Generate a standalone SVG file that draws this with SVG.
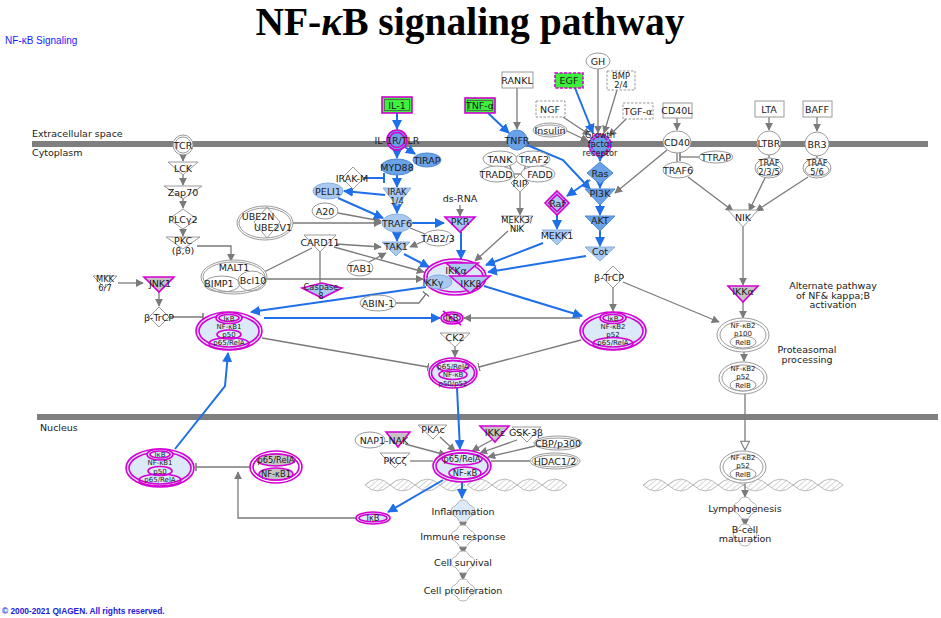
<svg xmlns="http://www.w3.org/2000/svg" width="941" height="618" viewBox="0 0 941 618">
<style>
.t{font-family:"DejaVu Sans","Liberation Sans",sans-serif;font-size:9.5px;text-anchor:middle;fill:#1a1a1a}
.s{font-size:8.3px}
.xs{font-size:7px}
.l{text-anchor:start}
.g{stroke:#7a7a7a;stroke-width:1.3;fill:none}
.b{stroke:#1f6fe8;stroke-width:2;fill:none}
.w{fill:#fff;stroke:#9a9a9a;stroke-width:1}
.wn{fill:none;stroke:#9a9a9a;stroke-width:1}
.lb{fill:#aac9f0;stroke:#86aee0;stroke-width:1}
.db{fill:#6aa2e8;stroke:#4d88d6;stroke-width:1}
.m{fill:none;stroke:#d400d4;stroke-width:1.6}
.mf{fill:#dce9f9;stroke:#d400d4;stroke-width:1.6}
.cx{fill:#dce9f9;stroke:#d400d4;stroke-width:1.6}
.gr{fill:#3cf03c;stroke:#d400d4;stroke-width:1.6}
.gy{fill:#c4c4c4;stroke:#d400d4;stroke-width:1.6}
.ml{fill:#aac9f0;stroke:#d400d4;stroke-width:1.6}
.dash{fill:#fff;stroke:#999;stroke-width:1;stroke-dasharray:2.5,1.5}
</style>
<defs>
<marker id="ag" viewBox="0 0 10 10" refX="9" refY="5" markerWidth="8" markerHeight="8" markerUnits="userSpaceOnUse" orient="auto"><path d="M0,0L10,5L0,10z" fill="#7a7a7a"/></marker>
<marker id="ab" viewBox="0 0 10 10" refX="9" refY="5" markerWidth="10" markerHeight="10" markerUnits="userSpaceOnUse" orient="auto"><path d="M0,0L10,5L0,10z" fill="#1f6fe8"/></marker>
<marker id="ao" viewBox="0 0 10 10" refX="9" refY="5" markerWidth="11" markerHeight="11" markerUnits="userSpaceOnUse" orient="auto"><path d="M1,1L9,5L1,9z" fill="#fff" stroke="#7a7a7a" stroke-width="1"/></marker>
<marker id="tg" viewBox="0 0 2 10" refX="1" refY="5" markerWidth="1.6" markerHeight="9" markerUnits="userSpaceOnUse" orient="auto"><rect width="2" height="10" fill="#7a7a7a"/></marker>
<marker id="tb" viewBox="0 0 2 10" refX="1" refY="5" markerWidth="2" markerHeight="10" markerUnits="userSpaceOnUse" orient="auto"><rect width="2" height="10" fill="#1f6fe8"/></marker>
<pattern id="hatch" width="4" height="4" patternUnits="userSpaceOnUse" patternTransform="rotate(50)"><line x1="0" y1="0" x2="0" y2="4" stroke="#b0b0b0" stroke-width="1"/></pattern>
<path id="lens" d="M0,0 Q12.5,-12 25,0 Q12.5,12 0,0Z" fill="url(#hatch)" stroke="#aaa" stroke-width="0.8"/>
<path id="puz" d="M-5,-8 a5,3 0 0 1 10,0 l3,3 a3,4 0 0 1 0,10 l-3,3 a5,3 0 0 1 -10,0 l-3,-3 a3,4 0 0 1 0,-10 z" stroke="#aaa" stroke-width="0.9"/>
</defs>
<rect width="941" height="618" fill="#fff"/>

<text x="470" y="35" font-family="Liberation Serif,serif" font-weight="bold" font-size="39.5" text-anchor="middle" fill="#000">NF-<tspan font-style="italic">κ</tspan>B signaling pathway</text>
<text x="5" y="44" font-family="Liberation Sans,sans-serif" font-size="10" fill="#1a1aff">NF-κB Signaling</text>

<g id="membranes">
<rect x="32" y="141" width="896" height="6" fill="#7f7f7f"/>
<rect x="37" y="414" width="901" height="6" fill="#7f7f7f"/>
<text class="t l" x="32" y="137">Extracellular space</text>
<text class="t l" x="32" y="156">Cytoplasm</text>
<text class="t l" x="40" y="431">Nucleus</text>
</g>

<g id="dna">
<use href="#lens" x="365" y="485"/><use href="#lens" x="390" y="485"/><use href="#lens" x="415" y="485"/><use href="#lens" x="440" y="485"/><use href="#lens" x="467" y="485"/><use href="#lens" x="492" y="485"/><use href="#lens" x="517" y="485"/><use href="#lens" x="542" y="485"/>
<use href="#lens" x="643" y="485"/><use href="#lens" x="668" y="485"/><use href="#lens" x="693" y="485"/><use href="#lens" x="718" y="485"/><use href="#lens" x="743" y="485"/><use href="#lens" x="768" y="485"/><use href="#lens" x="793" y="485"/><use href="#lens" x="818" y="485"/>
</g>

<g id="connectors">
<g class="g" marker-end="url(#ag)">
<path d="M183,155V161"/><path d="M183,175V185"/><path d="M183,199V208"/><path d="M183,229V236"/>
<path d="M197,246H231V261"/><path d="M118,283H143"/><path d="M159,292V306"/>
<path d="M293,223H381"/><path d="M338,213L381,221"/><path d="M336,244L381,247"/><path d="M334,247L424,272"/>
<path d="M266,279H423"/><path d="M369,262L386,253"/><path d="M424,241L410,247"/>
<path d="M460,205V216"/><path d="M520,192V215"/><path d="M508,231L475,261"/>
<path d="M517,88V129"/><path d="M598,69V133"/><path d="M617,90L604,133"/><path d="M563,117L590,135"/><path d="M567,131L588,141"/><path d="M626,119L609,136"/>
<path d="M677,118V130"/><path d="M667,150L615,193"/><path d="M688,177L733,211"/>
<path d="M769,117V130"/><path d="M765,178L749,211"/><path d="M817,117V131"/><path d="M808,177L756,211"/>
<path d="M743,227V285"/><path d="M743,302V318"/><path d="M744,352V361"/>
<path d="M613,288V311"/><path d="M623,282L719,322"/><path d="M580,318H464"/><path d="M455,347V357"/>
<path d="M405,444L446,455"/><path d="M440,437L455,451"/><path d="M492,440L472,451"/><path d="M517,440L480,453"/><path d="M535,446L488,457"/>
<path d="M356,518H238V472"/>
<path d="M745,484V497"/><path d="M745,519V526"/><path d="M463,522V529"/><path d="M463,546V554"/><path d="M463,572V580"/>
</g>
<g class="g">
<path d="M312,248L264,272"/><path d="M320,252V283"/><path d="M410,228L425,234"/>
<path d="M677,153V162"/><path d="M769,155V158"/><path d="M817,156V158"/>
<path d="M410,461H433"/><path d="M491,461H530"/>
<path d="M514,174H522"/><path d="M509,164L515,178"/><path d="M526,164L522,177"/>
</g>
<path class="g" d="M745,394V450" marker-end="url(#ao)"/>
<g class="g" marker-end="url(#tg)">
<path d="M170,317H203"/><path d="M396,303H419L426,294"/><path d="M699,157H680"/>
<path d="M262,338L428,367"/><path d="M581,340L479,367"/><path d="M250,467H196"/>
</g>
<g class="b" marker-end="url(#ab)">
<path d="M397,113V129"/><path d="M397,150V158"/><path d="M405,147L415,154"/><path d="M397,175V187"/>
<path d="M385,195L344,191"/><path d="M338,198L383,218"/><path d="M397,206V213"/><path d="M412,223H444"/>
<path d="M397,232V241"/><path d="M404,254L429,267"/><path d="M461,232V259"/>
<path d="M488,113L509,133"/><path d="M527,145L563,160L590,189"/><path d="M575,88L593,133"/>
<path d="M600,156V161"/><path d="M600,184V188"/><path d="M590,180L567,196"/><path d="M600,205V215"/><path d="M600,231V246"/>
<path d="M586,256L488,272"/><path d="M557,215V229"/><path d="M543,243L486,265"/>
<path d="M484,286L582,316"/><path d="M426,287L251,312"/><path d="M264,318H440"/>
<path d="M457,388L460,449"/><path d="M175,449L225,386L228,353"/><path d="M443,480L388,512"/><path d="M462,482V498"/>
</g>
<path class="b" d="M364,178H384" marker-end="url(#tb)"/>
</g>

<g id="TCR"><circle cx="183" cy="145" r="10" class="w"/><circle cx="183" cy="145" r="8" class="wn"/><text class="t" x="183" y="148.5">TCR</text></g>
<g id="LCK"><polygon points="168,162 198,162 183,175" class="w"/><text class="t" x="183" y="172">LCK</text></g>
<g id="Zap70"><polygon points="164,186 202,186 183,199" class="w"/><text class="t" x="183" y="196">Zap70</text></g>
<g id="PLCg2"><polygon points="183,209 197,219 183,229 169,219" class="w"/><text class="t" x="183" y="222.5">PLCγ2</text></g>
<g id="PKC"><polygon points="166,237 200,237 183,249" class="w"/><text class="t" x="183" y="244">PKC</text><text class="t" x="183" y="253.5">(β,θ)</text></g>
<g id="MALT1"><ellipse cx="234" cy="277" rx="33" ry="17" class="w"/><ellipse cx="234" cy="277" rx="31" ry="15" class="wn"/><ellipse cx="222" cy="284" rx="18" ry="8" class="wn"/><ellipse cx="252" cy="281" rx="14" ry="10" class="wn"/><text class="t" x="234" y="271">MALT1</text><text class="t" x="219" y="287">BIMP1</text><text class="t" x="253" y="284">Bcl10</text></g>
<g id="UBE2N"><ellipse cx="265" cy="223" rx="28" ry="17" class="w"/><ellipse cx="265" cy="223" rx="26" ry="15" class="wn"/><polygon points="267,207 280,222 267,238 254,222" class="wn"/><text class="t" x="258" y="219.5">UBE2N</text><text class="t" x="273" y="231">UBE2V1</text></g>
<g id="MKK67"><polygon points="93,276 117,276 105,288" class="w"/><text class="t s" x="105" y="282">MKK</text><text class="t s" x="105" y="291">6/7</text></g>
<g id="JNK1"><polygon points="144,277 174,277 159,292" class="gy"/><text class="t" x="160" y="287">JNK1</text></g>
<g id="bTrCP1"><polygon points="159,307 169,317 159,327 149,317" class="w"/><text class="t" x="159" y="320.5">β-TrCP</text></g>

<g id="IL1"><rect x="382" y="97" width="30" height="16" class="gr"/><rect x="384.5" y="99.5" width="25" height="11" fill="none" stroke="#555" stroke-width="0.8"/><text class="t" x="397" y="108.5">IL-1</text></g>
<g id="IL1R"><circle cx="397" cy="140" r="10" class="db"/><circle cx="397" cy="140" r="10" class="m"/><circle cx="397" cy="140" r="7.5" class="m"/><text class="t" x="397" y="143.5">IL-1R/TLR</text></g>
<g id="TIRAP"><ellipse cx="427" cy="160" rx="14" ry="7" class="db"/><text class="t" x="427" y="163.5">TIRAP</text></g>
<g id="MYD88"><ellipse cx="397" cy="167" rx="16" ry="8" class="db"/><text class="t" x="397" y="170.5">MYD88</text></g>
<g id="IRAKM"><polygon points="353,167 364,178 353,189 342,178" class="w"/><text class="t" x="352" y="181.5">IRAK-M</text></g>
<g id="IRAK"><polygon points="383,188 411,188 397,206" class="lb"/><text class="t s" x="397" y="194.5">IRAK</text><text class="t s" x="397" y="204">1/4</text></g>
<g id="PELI1"><ellipse cx="328" cy="191" rx="15" ry="8" class="lb"/><text class="t" x="328" y="194.5">PELI1</text></g>
<g id="A20"><ellipse cx="325" cy="211" rx="13" ry="8" class="w"/><text class="t" x="325" y="214.5">A20</text></g>
<g id="TRAF6a"><ellipse cx="397" cy="223" rx="15" ry="9" class="lb"/><text class="t" x="397" y="226.5">TRAF6</text></g>
<g id="dsRNA"><text class="t" x="460" y="202">ds-RNA</text></g>
<g id="PKR"><polygon points="445,217 475,217 460,232" class="ml"/><text class="t" x="460" y="225">PKR</text></g>
<g id="TAB23"><ellipse cx="438" cy="238" rx="15" ry="8" class="w"/><text class="t" x="438" y="241.5">TAB2/3</text></g>
<g id="TAK1"><polygon points="382,242 410,242 396,256" class="lb"/><text class="t" x="396" y="250">TAK1</text></g>
<g id="CARD11"><polygon points="304,235 336,235 320,252" class="w"/><text class="t" x="320" y="246">CARD11</text></g>
<g id="TAB1"><ellipse cx="360" cy="268" rx="13" ry="8" class="w"/><text class="t" x="360" y="271.5">TAB1</text></g>
<g id="Casp8"><polygon points="302,288 322,283 342,288 322,298" class="ml"/><text class="t s" x="321" y="290">Caspase</text><text class="t s" x="321" y="298.5">8</text></g>
<g id="ABIN1"><ellipse cx="378" cy="303" rx="18" ry="8" class="w"/><text class="t" x="378" y="306.5">ABIN-1</text></g>
<g id="IKK"><ellipse cx="455" cy="277" rx="31" ry="18" class="cx"/><ellipse cx="455" cy="277" rx="28" ry="15" class="m"/><ellipse cx="439" cy="282" rx="13" ry="7" class="lb"/><polygon points="446,263 478,263 462,277" class="ml"/><polygon points="450,276 490,276 470,293" class="ml"/><text class="t" x="456" y="274">IKKα</text><text class="t" x="433" y="286">IKKγ</text><text class="t" x="471" y="287">IKKβ</text></g>

<g id="RANKL"><rect x="502" y="72" width="31" height="16" class="w"/><text class="t" x="517" y="83.5">RANKL</text></g>
<g id="TNFa"><rect x="465" y="98" width="30" height="15" class="gr"/><rect x="467.5" y="100.5" width="25" height="10" fill="none" stroke="#555" stroke-width="0.8"/><text class="t" x="480" y="109">TNF-α</text></g>
<g id="TNFR"><circle cx="517" cy="140" r="10" class="db"/><text class="t" x="517" y="143.5">TNFR</text></g>
<g id="TNFRcx"><ellipse cx="500" cy="159" rx="17" ry="8" class="w"/><ellipse cx="533" cy="159" rx="17" ry="8" class="w"/><ellipse cx="497" cy="174" rx="17" ry="8" class="w"/><ellipse cx="538" cy="174" rx="17" ry="8" class="w"/><polygon points="520,174 529,183 520,192 511,183" class="w"/><text class="t" x="500" y="162.5">TANK</text><text class="t" x="534" y="162.5">TRAF2</text><text class="t" x="496" y="177.5">TRADD</text><text class="t" x="540" y="177.5">FADD</text><text class="t" x="520" y="186.5">RIP</text></g>
<g id="MEKK3"><polygon points="501,216 533,216 517,231" class="w"/><text class="t s" x="517" y="222.5">MEKK3/</text><text class="t s" x="517" y="232">NIK</text></g>
<g id="EGF"><rect x="555" y="73" width="28" height="15" fill="#3cf03c" stroke="#d400d4" stroke-width="1.6" stroke-dasharray="3,1.5"/><text class="t" x="569" y="84">EGF</text></g>
<g id="GH"><ellipse cx="598" cy="61" rx="12" ry="8" class="w"/><text class="t" x="598" y="64.5">GH</text></g>
<g id="BMP"><rect x="607" y="71" width="28" height="19" class="dash"/><text class="t s" x="621" y="79">BMP</text><text class="t s" x="621" y="88">2/4</text></g>
<g id="NGF"><rect x="536" y="101" width="29" height="16" class="dash"/><text class="t" x="550" y="112.5">NGF</text></g>
<g id="TGFa"><rect x="623" y="103" width="30" height="16" class="dash"/><text class="t" x="638" y="114.5">TGF-α</text></g>
<g id="Insulin"><ellipse cx="550" cy="130" rx="17" ry="7" class="w"/><ellipse cx="550" cy="130" rx="15" ry="5" class="wn"/><text class="t" x="550" y="133.5">Insulin</text></g>
<g id="GFR"><circle cx="600" cy="145" r="11" class="db"/><circle cx="600" cy="145" r="11" class="m" stroke-dasharray="3,1.5"/><circle cx="600" cy="145" r="8.5" class="m" stroke-dasharray="3,1.5"/><text class="t s" x="600" y="138">Growth</text><text class="t s" x="600" y="147">factor</text><text class="t s" x="600" y="156">receptor</text></g>
<g id="Ras"><polygon points="600,162 613,173 600,184 587,173" class="db"/><text class="t" x="600" y="176.5">Ras</text></g>
<g id="Raf"><polygon points="557,191 569,203 557,215 545,203" class="ml"/><polygon points="557,194.5 565.5,203 557,211.5 548.5,203" class="m" stroke-width="1"/><text class="t" x="557" y="206.5">Raf</text></g>
<g id="PI3K"><polygon points="585,189 615,189 600,205" class="db"/><text class="t" x="600" y="197">PI3K</text></g>
<g id="AKT"><polygon points="585,216 615,216 600,231" class="db"/><text class="t" x="600" y="224">AKT</text></g>
<g id="Cot"><polygon points="585,247 615,247 600,261" class="lb"/><text class="t" x="600" y="255">Cot</text></g>
<g id="MEKK1"><polygon points="542,230 572,230 557,245" class="lb"/><text class="t" x="557" y="238.5">MEKK1</text></g>

<g id="CD40L"><rect x="663" y="103" width="29" height="15" class="w"/><text class="t" x="677" y="114">CD40L</text></g>
<g id="CD40"><ellipse cx="677" cy="142" rx="14" ry="11" class="w"/><text class="t" x="677" y="145.5">CD40</text></g>
<g id="TTRAP"><ellipse cx="716" cy="157" rx="17" ry="6" class="w"/><text class="t" x="716" y="160.5">TTRAP</text></g>
<g id="TRAF6b"><ellipse cx="678" cy="170" rx="15" ry="8" class="w"/><text class="t" x="678" y="173.5">TRAF6</text></g>
<g id="LTA"><rect x="755" y="101" width="29" height="16" class="w"/><text class="t" x="769" y="112.5">LTA</text></g>
<g id="LTBR"><circle cx="769" cy="143" r="12" class="w"/><text class="t" x="769" y="146.5">LTBR</text></g>
<g id="TRAF235"><ellipse cx="769" cy="168" rx="14" ry="10" class="w"/><ellipse cx="769" cy="170" rx="12" ry="6" class="wn"/><text class="t s" x="769" y="166">TRAF</text><text class="t s" x="769" y="175">2/3/5</text></g>
<g id="BAFF"><rect x="803" y="101" width="29" height="16" class="w"/><text class="t" x="817" y="112.5">BAFF</text></g>
<g id="BR3"><circle cx="817" cy="144" r="12" class="w"/><text class="t" x="817" y="147.5">BR3</text></g>
<g id="TRAF56"><ellipse cx="817" cy="168" rx="14" ry="10" class="w"/><ellipse cx="817" cy="170" rx="12" ry="6" class="wn"/><text class="t s" x="817" y="166">TRAF</text><text class="t s" x="817" y="175">5/6</text></g>
<g id="NIK"><polygon points="728,210 758,210 743,227" class="w"/><text class="t" x="743" y="221">NIK</text></g>
<g id="IKKa2"><polygon points="728,286 758,286 743,302" class="gy"/><text class="t" x="743" y="295">IKKα</text></g>
<g id="altText"><text class="t" x="833" y="289">Alternate pathway</text><text class="t" x="833" y="298.5">of NF&amp; kappa;B</text><text class="t" x="833" y="308">activation</text></g>
<g id="p100"><ellipse cx="743" cy="335" rx="26" ry="17" class="w"/><ellipse cx="743" cy="335" rx="23" ry="14" class="wn"/><ellipse cx="743" cy="342" rx="13" ry="6" class="w"/><text class="t xs" x="743" y="327.5">NF-κB2</text><text class="t xs" x="743" y="335.5">p100</text><text class="t xs" x="743" y="344.5">RelB</text></g>
<g id="procText"><text class="t" x="807" y="353">Proteasomal</text><text class="t" x="807" y="362.5">processing</text></g>
<g id="p52c"><ellipse cx="743" cy="378" rx="24" ry="16" class="w"/><ellipse cx="743" cy="378" rx="21" ry="13" class="wn"/><ellipse cx="743" cy="385" rx="13" ry="6" class="w"/><text class="t xs" x="743" y="370.5">NF-κB2</text><text class="t xs" x="743" y="378.5">p52</text><text class="t xs" x="743" y="387.5">RelB</text></g>
<g id="bTrCP2"><polygon points="613,266 624,277 613,288 602,277" class="w"/><text class="t" x="609" y="280.5">β-TrCP</text></g>

<g id="NFkB1c"><ellipse cx="229" cy="331" rx="33" ry="19" class="cx"/><ellipse cx="229" cy="331" rx="30" ry="16" class="m"/><ellipse cx="229" cy="318" rx="13" ry="5.5" class="mf"/><ellipse cx="229" cy="318" rx="10" ry="3.5" class="m" stroke-width="1"/><ellipse cx="229" cy="334.5" rx="12" ry="4.5" class="m"/><ellipse cx="229" cy="343.5" rx="20" ry="6" class="m"/><text class="t xs" x="229" y="320.5">IκB</text><text class="t xs" x="229" y="328.8">NF-κB1</text><text class="t xs" x="229" y="337.1">p50</text><text class="t xs" x="229" y="345.4">p65/RelA</text></g>
<g id="NFkB2c"><ellipse cx="613" cy="331" rx="33" ry="19" class="cx"/><ellipse cx="613" cy="331" rx="30" ry="16" class="m"/><ellipse cx="613" cy="318" rx="13" ry="5.5" class="mf"/><ellipse cx="613" cy="318" rx="10" ry="3.5" class="m" stroke-width="1"/><ellipse cx="613" cy="343.5" rx="20" ry="6" class="m"/><text class="t xs" x="613" y="320.5">IκB</text><text class="t xs" x="613" y="328.8">NF-κB2</text><text class="t xs" x="613" y="337.1">p52</text><text class="t xs" x="613" y="345.4">p65/RelA</text></g>
<g id="IkBfree"><ellipse cx="452" cy="318" rx="11" ry="6" class="mf"/><ellipse cx="452" cy="318" rx="8.5" ry="4" class="m" stroke-width="1"/><path d="M443,311L461,325" class="m"/><text class="t s" x="452" y="321">IκB</text></g>
<g id="CK2"><polygon points="440,333 470,333 455,347" class="w"/><text class="t" x="455" y="341">CK2</text></g>
<g id="p65c"><ellipse cx="453" cy="373" rx="24" ry="15" class="cx"/><ellipse cx="453" cy="373" rx="21.5" ry="12.5" class="m"/><ellipse cx="453" cy="366" rx="16" ry="5.5" class="m"/><ellipse cx="453" cy="374.5" rx="14" ry="5" class="m"/><text class="t xs" x="453" y="368.5">p65/RelA</text><text class="t xs" x="453" y="377">NF-κB</text><text class="t xs" x="453" y="385.5">p50/p52</text></g>

<g id="NFkBn"><ellipse cx="462" cy="466" rx="29" ry="16" class="cx"/><ellipse cx="462" cy="466" rx="26" ry="13" class="m"/><ellipse cx="462" cy="459" rx="20" ry="6" class="m"/><ellipse cx="465" cy="473" rx="16" ry="6" class="m"/><text class="t s" x="462" y="462">p65/RelA</text><text class="t s" x="465" y="476">NF-κB</text></g>
<g id="NAP1NAK"><ellipse cx="370" cy="440" rx="15" ry="8" class="w"/><polygon points="386,432 410,432 398,447" class="gy"/><text class="t" x="384" y="443.5">NAP1-NAK</text></g>
<g id="PKAc"><polygon points="418,425 447,425 433,439" class="w"/><text class="t" x="433" y="433">PKAc</text></g>
<g id="PKCz"><polygon points="380,453 410,453 395,468" class="w"/><text class="t" x="395" y="463.5">PKCζ</text></g>
<g id="IKKe"><polygon points="480,426 509,426 495,442" class="gy"/><text class="t" x="495" y="436">IKKε</text></g>
<g id="GSK3b"><polygon points="512,427 541,427 527,442" class="w"/><text class="t" x="526" y="436">GSK-3β</text></g>
<g id="CBP"><ellipse cx="558" cy="443" rx="24" ry="7" class="w"/><ellipse cx="558" cy="443" rx="22" ry="5" class="wn"/><text class="t" x="558" y="446.5">CBP/p300</text></g>
<g id="HDAC"><ellipse cx="555" cy="461" rx="25" ry="8" class="w"/><ellipse cx="555" cy="461" rx="23" ry="6" class="wn"/><text class="t" x="555" y="464.5">HDAC1/2</text></g>
<g id="IkBn"><ellipse cx="373" cy="518" rx="17" ry="6" class="mf"/><ellipse cx="373" cy="518" rx="14" ry="3.8" class="m" stroke-width="1"/><text class="t s" x="373" y="521">IκB</text></g>
<g id="NFkB1n"><ellipse cx="160" cy="468" rx="34" ry="19" class="cx"/><ellipse cx="160" cy="468" rx="31" ry="16" class="m"/><ellipse cx="160" cy="454.5" rx="13" ry="5.5" class="mf"/><ellipse cx="160" cy="454.5" rx="10" ry="3.5" class="m" stroke-width="1"/><ellipse cx="160" cy="471" rx="12" ry="4.5" class="m"/><ellipse cx="160" cy="480" rx="21" ry="6" class="m"/><text class="t xs" x="160" y="457">IκB</text><text class="t xs" x="160" y="465.3">NF-κB1</text><text class="t xs" x="160" y="473.6">p50</text><text class="t xs" x="160" y="481.9">p65/RelA</text></g>
<g id="p65NFkB1n"><ellipse cx="276" cy="467" rx="26" ry="16" fill="#fff" stroke="#d400d4" stroke-width="1.6"/><ellipse cx="276" cy="467" rx="23" ry="13" class="m"/><ellipse cx="276" cy="460" rx="19" ry="6" class="gy"/><ellipse cx="276" cy="474" rx="17" ry="6" class="gy"/><text class="t s" x="276" y="463">p65/RelA</text><text class="t s" x="276" y="477">NF-κB1</text></g>
<g id="p52n"><ellipse cx="743" cy="467" rx="23" ry="16" class="w"/><ellipse cx="743" cy="467" rx="20" ry="13" class="wn"/><ellipse cx="743" cy="474" rx="13" ry="6" class="w"/><text class="t xs" x="743" y="459.5">NF-κB2</text><text class="t xs" x="743" y="467.5">p52</text><text class="t xs" x="743" y="476.5">RelB</text></g>

<g id="Inflammation"><use href="#puz" x="463" y="511" fill="#dce9f9"/><text class="t" x="463" y="514.5">Inflammation</text></g>
<g id="Immune"><use href="#puz" x="463" y="536" fill="#fff"/><text class="t" x="463" y="539.5">Immune response</text></g>
<g id="Survival"><use href="#puz" x="463" y="562" fill="#fff"/><text class="t" x="463" y="565.5">Cell survival</text></g>
<g id="Prolif"><use href="#puz" x="463" y="590" fill="#fff"/><text class="t" x="463" y="593.5">Cell proliferation</text></g>
<g id="Lymph"><use href="#puz" x="745" y="508" fill="#fff"/><text class="t" x="745" y="511.5">Lymphogenesis</text></g>
<g id="Bcell"><use href="#puz" x="745" y="535" fill="#fff"/><text class="t" x="745" y="532.5">B-cell</text><text class="t" x="745" y="542">maturation</text></g>

<text x="2" y="614" font-family="Liberation Sans,sans-serif" font-size="8.3" font-weight="bold" fill="#2020e0">© 2000-2021 QIAGEN. All rights reserved.</text>
</svg>
